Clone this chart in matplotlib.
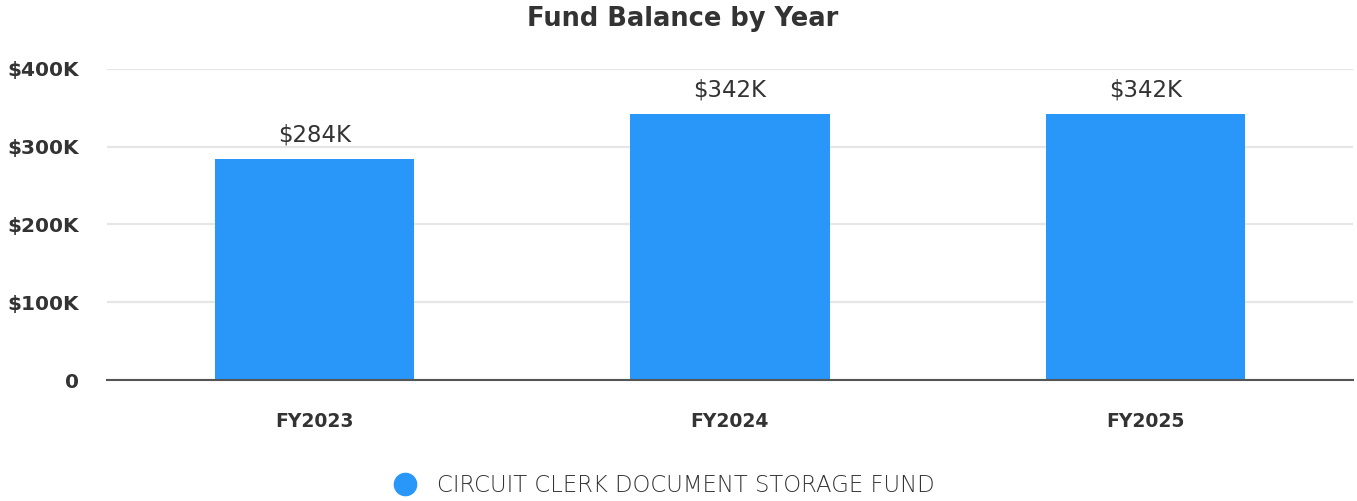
import matplotlib.pyplot as plt
from matplotlib.lines import Line2D
from matplotlib.ticker import FuncFormatter

# fund balances per fiscal year (dollars)
years = ['FY2023', 'FY2024', 'FY2025']
balances = [284000, 342000, 342000]
series_name = 'CIRCUIT CLERK DOCUMENT STORAGE FUND'
y_ticks = [0, 100000, 200000, 300000, 400000]

bar_color = '#2997fa'
text_color = '#333333'
plt.rcParams['font.family'] = ['DejaVu Sans']


def money_k(v, _pos=None):
    if v == 0:
        return '0'
    return f'${v / 1000:.0f}K'


fig = plt.figure(figsize=(13.57, 5.01), dpi=100)
ax = fig.add_axes([0.0789, 0.2415, 0.918, 0.6208])

x = range(len(years))
bars = ax.bar(x, balances, width=0.48, color=bar_color, zorder=2)

ax.set_xlim(-0.5, len(years) - 0.5)
ax.set_ylim(0, 400000)
ax.set_yticks(y_ticks)
ax.yaxis.set_major_formatter(FuncFormatter(money_k))
ax.set_xticks(list(x))
ax.set_xticklabels(years)

ax.grid(axis='y', color='#e6e6e6', linewidth=1.6, zorder=0)
ax.set_axisbelow(True)
for side in ['top', 'right', 'left']:
    ax.spines[side].set_visible(False)
ax.spines['bottom'].set_color('#555555')
ax.spines['bottom'].set_linewidth(1.5)
ax.spines['bottom'].set_zorder(3)

ax.tick_params(axis='both', length=0, colors=text_color)
ax.tick_params(axis='y', pad=20, labelsize=14.5)
ax.tick_params(axis='x', pad=23, labelsize=13.5)
for lbl in ax.get_xticklabels() + ax.get_yticklabels():
    lbl.set_fontweight('bold')

# value labels over each bar
for b, v in zip(bars, balances):
    ax.annotate(money_k(v), (b.get_x() + b.get_width() / 2, v),
                xytext=(0, 9), textcoords='offset points',
                ha='center', va='bottom', fontsize=16.5, color=text_color)

fig.text(0.503, 0.963, 'Fund Balance by Year', ha='center', va='center',
         fontsize=18.5, fontweight='semibold', color=text_color)

handle = Line2D([], [], marker='o', linestyle='none', markersize=16,
                markerfacecolor=bar_color, markeredgecolor=bar_color)
fig.legend([handle], [series_name], loc='center', bbox_to_anchor=(0.485, 0.03),
           frameon=False, handletextpad=0.4, prop={'size': 16.4, 'weight': 'light'},
           labelcolor=text_color)

fig.savefig('out.png', dpi=100)
